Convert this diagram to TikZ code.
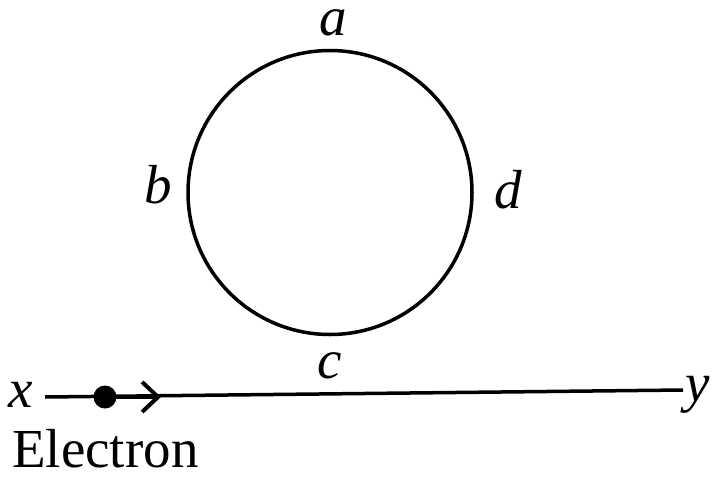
\documentclass[tikz,border=0pt]{standalone}
\usepackage{fontspec}
\setmainfont{Liberation Serif}
\usetikzlibrary{arrows.meta}
\begin{document}
\begin{tikzpicture}[x=1pt,y=-1pt,
  lbl/.style={font=\fontsize{55}{60}\selectfont\itshape, inner sep=0pt, anchor=base},
  wire/.style={line width=3.5pt}]
\useasboundingbox (0,0) rectangle (712,477);
\node[draw, circle, line width=3.5pt, minimum size=284pt, inner sep=0pt] (loop) at (330,192.5) {};
\node[lbl] (a) at (333,35) {a};
\node[lbl] (b) at (158,203) {b};
\node[lbl] (d) at (508,208) {d};
\node[lbl] (c) at (330,378) {c};
\node[lbl] (xl) at (21,407) {x};
\node[lbl] (yl) at (698,401) {y};
\node[font=\fontsize{55}{60}\selectfont, inner sep=0pt, anchor=base west] (el) at (12,467) {Electron};
\coordinate (ls) at (45,397);
\coordinate (le) at (683,390);
\draw[wire] (ls) -- (le);
\node[circle, fill, minimum size=23pt, inner sep=0pt] (dot) at (105,397) {};
\coordinate (tip) at (161,397);
\draw[line width=3.5pt, -{Straight Barb[length=16pt,width=30pt,line width=4pt]}] (dot.center) -- (tip);
\end{tikzpicture}
\end{document}
